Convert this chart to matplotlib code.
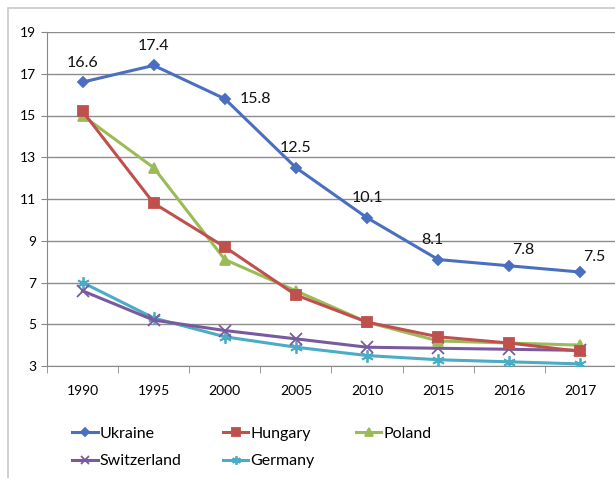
import matplotlib
matplotlib.use("Agg")
import matplotlib.pyplot as plt
from matplotlib.patches import Rectangle
import numpy as np

plt.rcParams['font.family'] = ['Lato', 'DejaVu Sans']

years = ['1990', '1995', '2000', '2005', '2010', '2015', '2016', '2017']
ukraine = [16.6, 17.4, 15.8, 12.5, 10.1, 8.1, 7.8, 7.5]
hungary = [15.2, 10.8, 8.7, 6.4, 5.1, 4.4, 4.1, 3.7]
poland = [15.0, 12.5, 8.1, 6.6, 5.1, 4.2, 4.1, 4.0]
switzerland = [6.6, 5.2, 4.7, 4.3, 3.9, 3.85, 3.8, 3.75]
germany = [7.0, 5.3, 4.4, 3.9, 3.5, 3.3, 3.2, 3.1]

# label offsets (points) for the Ukraine data labels
label_offsets = [(0, 9), (0, 9), (22, 0), (0, 9), (0, 9), (-4, 9), (10, 6), (10, 6)]

fig = plt.figure(figsize=(6.15, 4.78), dpi=100)
ax = fig.add_axes([47 / 615, 1 - 366 / 478, 569 / 615, (366 - 32) / 478])

# chart border
fig.patches.append(Rectangle((8 / 615, -0.1), 1.2, 1 - 8 / 478 + 0.1,
                             transform=fig.transFigure, fill=False,
                             edgecolor='#c8c8c8', linewidth=1.2))

x = np.arange(len(years))
series = [
    ('Ukraine', ukraine, '#4a6fc0', 'D', 5.5),
    ('Hungary', hungary, '#c0504d', 's', 7.5),
    ('Poland', poland, '#9bbb59', '^', 7.5),
    ('Switzerland', switzerland, '#7a5a9e', 'x', 8),
    ('Germany', germany, '#4bacc6', (6, 2, 0), 9),
]
for name, vals, col, mk, ms in reversed(series):
    ax.plot(x, vals, color=col, marker=mk, markersize=ms, linewidth=2.2,
            markeredgewidth=1.3, label=name, zorder=3)

for xi, v, off in zip(x, ukraine, label_offsets):
    ax.annotate(f'{v}', (xi, v), xytext=off, textcoords='offset points',
                ha='center', va='bottom' if off[1] > 0 else 'center',
                fontsize=11.5, color='#111111')

ax.set_xlim(-0.5, len(years) - 0.5)
ax.set_ylim(3, 19)
ax.set_yticks(range(3, 20, 2))
ax.set_xticks(x)
ax.set_xticklabels(years)
ax.set_xticks(np.arange(-0.5, len(years), 1), minor=True)
ax.tick_params(axis='x', which='major', length=0, pad=14, labelsize=10)
ax.tick_params(axis='x', which='minor', length=5, color='#888888')
ax.tick_params(axis='y', length=4, color='#888888', labelsize=10, pad=4)
ax.grid(axis='y', color='#8c8c8c', linewidth=1.0)
ax.set_axisbelow(True)
for s in ['top', 'right']:
    ax.spines[s].set_visible(False)
ax.spines['left'].set_color('#888888')
ax.spines['bottom'].set_color('#888888')

handles, labels = ax.get_legend_handles_labels()
handles, labels = handles[::-1], labels[::-1]
# reorder so that rows read Ukraine, Hungary, Poland / Switzerland, Germany
idx = [0, 3, 1, 4, 2]
fig.legend([handles[i] for i in idx], [labels[i] for i in idx], ncol=3,
           loc='upper left', bbox_to_anchor=(58 / 615, 1 - 412 / 478),
           frameon=False, fontsize=11.5, handlelength=1.6, handletextpad=0.1,
           columnspacing=2.6, labelspacing=0.85, markerscale=0.7)

fig.savefig('out.png', dpi=100)
